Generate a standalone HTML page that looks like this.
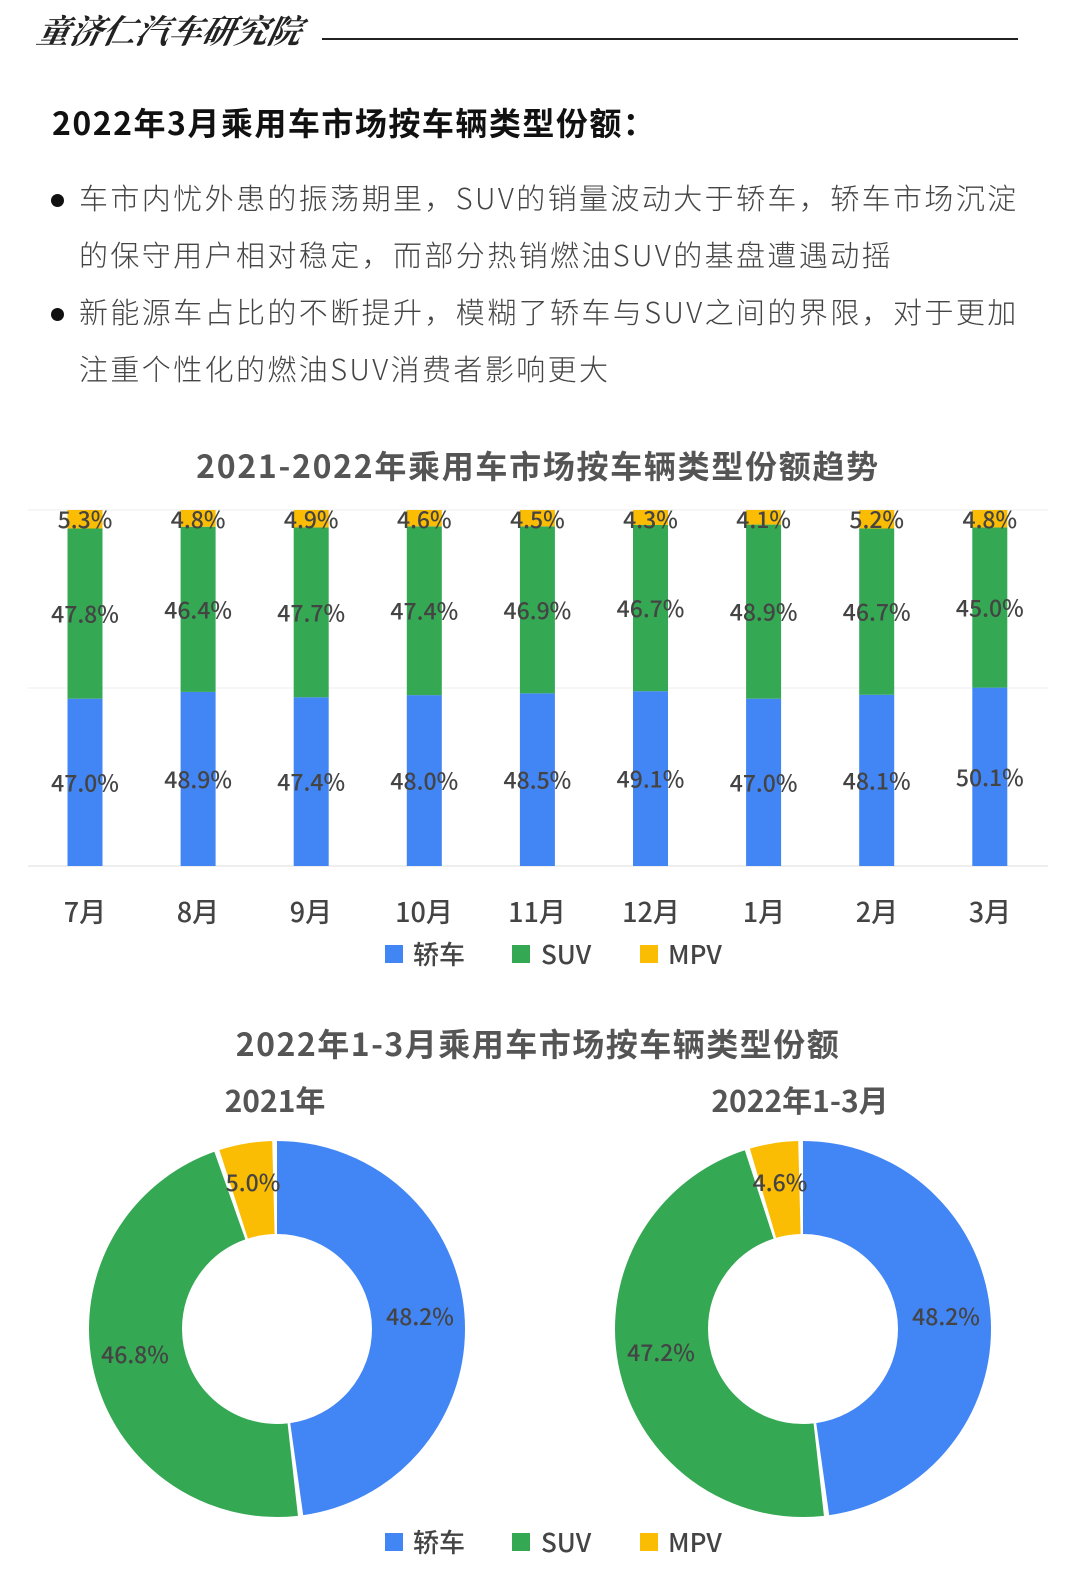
<!DOCTYPE html>
<html><head><meta charset="utf-8"><style>
body{margin:0;width:1080px;height:1574px;background:#fff;overflow:hidden;font-family:"Liberation Sans","Noto Sans CJK SC",sans-serif;position:relative}
.a{position:absolute;white-space:nowrap}
.b{position:absolute;left:-28px;top:25px;width:13px;height:13px;border-radius:50%;background:#111}
</style></head><body>
<div class="a" style="left:38px;top:6px;font-family:'Noto Serif CJK SC',serif;font-style:italic;font-weight:bold;font-size:33px;color:#222;transform:skewX(-12deg)">童济仁汽车研究院</div>
<div class="a" style="left:322px;top:38px;width:696px;height:2px;background:#222"></div>
<div class="a" style="left:52px;top:100px;font-size:32px;letter-spacing:1.5px;font-weight:bold;color:#111;font-family:'Noto Sans CJK SC','Liberation Sans',sans-serif;line-height:44px">2022年3月乘用车市场按车辆类型份额：</div>
<div class="a" style="left:79px;top:169px;font-size:29px;letter-spacing:2.4px;line-height:57px;color:#444;font-weight:300;font-family:'Noto Sans CJK SC','Liberation Sans',sans-serif">
<div style="position:relative"><span class="b"></span>车市内忧外患的振荡期里，SUV的销量波动大于轿车，轿车市场沉淀</div>
<div>的保守用户相对稳定，而部分热销燃油SUV的基盘遭遇动摇</div>
<div style="position:relative"><span class="b"></span>新能源车占比的不断提升，模糊了轿车与SUV之间的界限，对于更加</div>
<div>注重个性化的燃油SUV消费者影响更大</div>
</div>
<svg class="a" style="left:0;top:0" width="1080" height="1574" font-family="Noto Sans CJK SC,Liberation Sans,sans-serif">
<text x="538" y="478" text-anchor="middle" font-size="32" letter-spacing="1.7" font-weight="bold" fill="#555">2021-2022年乘用车市场按车辆类型份额趋势</text>
<line x1="28" y1="510" x2="1048" y2="510" stroke="#eee"/>
<line x1="28" y1="688" x2="1048" y2="688" stroke="#eee"/>
<line x1="28" y1="866" x2="1048" y2="866" stroke="#ddd"/>
<g id="bars"></g>
<g font-size="27" fill="#444" text-anchor="middle" font-weight="500">
<text x="85" y="922">7月</text><text x="198" y="922">8月</text><text x="311" y="922">9月</text><text x="424" y="922">10月</text><text x="537" y="922">11月</text><text x="651" y="922">12月</text><text x="764" y="922">1月</text><text x="877" y="922">2月</text><text x="990" y="922">3月</text>
</g>
<g font-size="26" fill="#444" font-weight="500">
<rect x="385" y="945" width="18" height="18" fill="#4285F4"/><text x="413" y="964">轿车</text>
<rect x="512" y="945" width="18" height="18" fill="#34A853"/><text x="541" y="964">SUV</text>
<rect x="640" y="945" width="18" height="18" fill="#FBBC04"/><text x="668" y="964">MPV</text>
</g>
<text x="538" y="1056" text-anchor="middle" font-size="32" letter-spacing="1.5" font-weight="bold" fill="#555">2022年1-3月乘用车市场按车辆类型份额</text>
<text x="275" y="1112" text-anchor="middle" font-size="30" font-weight="bold" fill="#555">2021年</text>
<text x="800" y="1112" text-anchor="middle" font-size="30" font-weight="bold" fill="#555">2022年1-3月</text>
<g id="donuts"></g>
<g font-size="26" fill="#444" font-weight="500">
<rect x="385" y="1533" width="18" height="18" fill="#4285F4"/><text x="413" y="1552">轿车</text>
<rect x="512" y="1533" width="18" height="18" fill="#34A853"/><text x="541" y="1552">SUV</text>
<rect x="640" y="1533" width="18" height="18" fill="#FBBC04"/><text x="668" y="1552">MPV</text>
</g>
</svg>
<script>
var NS="http://www.w3.org/2000/svg";
function el(p,t,a,txt){var e=document.createElementNS(NS,t);for(var k in a)e.setAttribute(k,a[k]);if(txt)e.textContent=txt;p.appendChild(e);return e;}
var d=[[47.0,47.8,5.3],[48.9,46.4,4.8],[47.4,47.7,4.9],[48.0,47.4,4.6],[48.5,46.9,4.5],[49.1,46.7,4.3],[47.0,48.9,4.1],[48.1,46.7,5.2],[50.1,45.0,4.8]];
var g=document.getElementById('bars'),cols=["#4285F4","#34A853","#FBBC04"];
var labs=[];
d.forEach(function(v,i){var cx=85+i*113.1,y=866,s=3.56;
 var hb=v[0]*s,hg=v[1]*s;
 el(g,'rect',{x:cx-17.5,y:y-hb,width:35,height:hb,fill:cols[0]});
 el(g,'rect',{x:cx-17.5,y:y-hb-hg,width:35,height:hg,fill:cols[1]});
 el(g,'rect',{x:cx-17.5,y:510,width:35,height:(y-hb-hg)-510,fill:cols[2]});
 labs.push([cx,y-hb/2+9,v[0]],[cx,y-hb-hg/2+9,v[1]],[cx,528,v[2]]);
});
labs.forEach(function(l){el(g,'text',{x:l[0],y:l[1],'text-anchor':'middle','font-size':23,'font-weight':500,fill:'#444'},l[2].toFixed(1)+'%');});
var dg=document.getElementById('donuts');
function donut(cx,cy,vals,lp){var r=141.5,C=2*Math.PI*r,st=0;
 vals.forEach(function(v,i){var L=v/100*C;
  el(dg,'circle',{cx:cx,cy:cy,r:r,fill:'none',stroke:cols[i],'stroke-width':93,'stroke-dasharray':(L-4)+' '+C,'stroke-dashoffset':-st,transform:'rotate(-90 '+cx+' '+cy+')'});
  st+=L;});
 lp.forEach(function(p,i){el(dg,'text',{x:p[0],y:p[1],'text-anchor':'middle','font-size':23,'font-weight':500,fill:'#444'},vals[i].toFixed(1)+'%');});
}
donut(277,1329,[48.2,46.8,5.0],[[420,1325],[135,1363],[253,1191]]);
donut(803,1329,[48.2,47.2,4.6],[[946,1325],[661,1361],[780,1191]]);
</script>
</body></html>
